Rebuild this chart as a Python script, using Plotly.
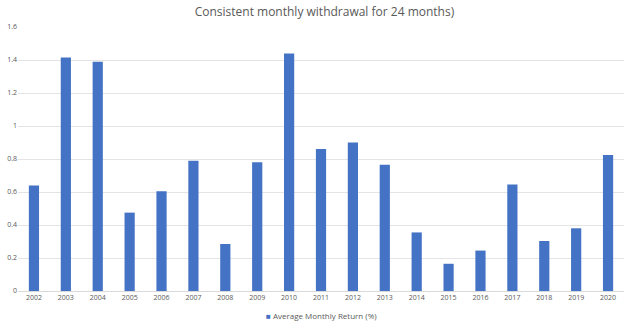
import plotly.graph_objects as go

years = ["2002", "2003", "2004", "2005", "2006", "2007", "2008", "2009", "2010", "2011",
         "2012", "2013", "2014", "2015", "2016", "2017", "2018", "2019", "2020"]
avg_monthly_return = [0.64, 1.415, 1.39, 0.475, 0.605, 0.79, 0.285, 0.78, 1.44, 0.86,
                      0.9, 0.765, 0.355, 0.165, 0.245, 0.645, 0.303, 0.38, 0.825]
y_ticks = [0, 0.2, 0.4, 0.6, 0.8, 1.0, 1.2, 1.4, 1.6]
y_tick_labels = ["0", "0.2", "0.4", "0.6", "0.8", "1", "1.2", "1.4", "1.6"]
series_name = "Average Monthly Return (%)"
bar_color = "#4472C4"

fig = go.Figure()
fig.add_trace(go.Bar(
    x=years, y=avg_monthly_return, name=series_name,
    marker=dict(color=bar_color, line=dict(width=0)), showlegend=False,
))

fig.add_annotation(
    text=f"<span style='color:{bar_color}'>■</span> {series_name}",
    xref="paper", yref="paper", x=0.5, y=-0.065, xanchor="center", yanchor="top",
    showarrow=False, font=dict(family="Open Sans", size=8, color="#595959"),
)

fig.update_layout(
    width=630, height=330,
    margin=dict(l=18, r=6, t=27, b=39),
    paper_bgcolor="white", plot_bgcolor="white",
    bargap=0.68,
    title=dict(text="Consistent monthly withdrawal for 24 months)", x=0.515, xanchor="center",
               y=0.963, yanchor="middle",
               font=dict(family="Open Sans", size=12, color="#595959")),
    font=dict(family="Open Sans", size=7, color="#595959"),
    showlegend=False,
    xaxis=dict(showgrid=False, showline=True, linecolor="#D9D9D9", linewidth=1,
               ticks="", tickfont=dict(size=7, color="#595959")),
    yaxis=dict(range=[0, 1.6], tickvals=y_ticks, ticktext=y_tick_labels,
               showgrid=True, gridcolor="#E4E4E4", gridwidth=1, zeroline=False,
               showline=False, ticks="", tickfont=dict(size=7, color="#595959")),
)

fig.write_html("out.html")
